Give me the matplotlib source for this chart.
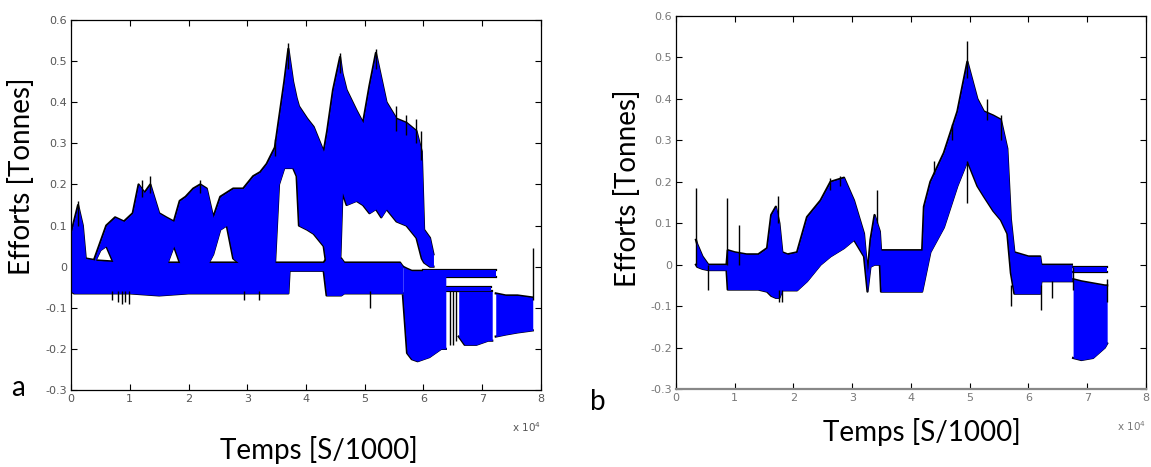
import matplotlib
matplotlib.use('Agg')
import matplotlib.pyplot as plt

# ---- panel a : overlapping runs (x in units of 1e4 S/1000, y in tonnes) ----
a_up_x = [0.40, 0.50, 0.60, 0.75, 0.90, 1.05, 1.15, 1.25, 1.35, 1.50, 1.62, 1.75, 1.85, 1.95, 2.08,
          2.20, 2.31, 2.42, 2.54, 2.65, 2.76, 2.93, 3.10, 3.22, 3.33, 3.47, 3.54, 3.63, 3.70, 3.78,
          3.84, 3.88, 4.02, 4.13, 4.30, 4.36, 4.46, 4.58, 4.62, 4.69, 4.86, 4.97, 5.08, 5.19, 5.28,
          5.37, 5.54, 5.71, 5.88, 5.97, 6.01, 6.11, 6.17]
a_up_top = [0.02, 0.06, 0.10, 0.12, 0.11, 0.13, 0.20, 0.18, 0.20, 0.13, 0.12, 0.11, 0.16, 0.17, 0.19,
            0.20, 0.19, 0.12, 0.17, 0.18, 0.19, 0.19, 0.22, 0.23, 0.25, 0.29, 0.36, 0.45, 0.53, 0.45,
            0.41, 0.39, 0.36, 0.34, 0.28, 0.33, 0.43, 0.51, 0.47, 0.43, 0.38, 0.35, 0.44, 0.52, 0.46,
            0.40, 0.36, 0.35, 0.33, 0.28, 0.09, 0.07, 0.03]
a_up_bot = [0.01, 0.04, 0.05, 0.00, 0.00, 0.00, 0.00, 0.00, 0.00, 0.00, 0.00, 0.05, 0.01, 0.00, 0.00,
            0.00, 0.00, 0.03, 0.09, 0.10, 0.02, 0.00, 0.00, 0.00, 0.00, 0.00, 0.20, 0.24, 0.24, 0.24,
            0.22, 0.10, 0.09, 0.08, 0.05, -0.01, -0.01, 0.00, 0.18, 0.15, 0.16, 0.15, 0.13, 0.14, 0.12,
            0.14, 0.11, 0.10, 0.07, 0.02, 0.01, 0.00, 0.00]

a_low_x = [0.00, 0.05, 0.12, 0.20, 0.25, 0.45, 1.00, 1.50, 2.00, 2.50, 3.00, 3.50, 3.70, 3.72, 4.30,
           4.35, 4.60, 4.65, 5.00, 5.60, 5.65]
a_low_top = [0.08, 0.11, 0.15, 0.10, 0.02, 0.015, 0.01, 0.01, 0.01, 0.01, 0.01, 0.01, 0.01, 0.01, 0.01,
             0.02, 0.02, 0.01, 0.01, 0.01, 0.00]
a_low_bot = [-0.06, -0.065, -0.065, -0.065, -0.065, -0.065, -0.065, -0.07, -0.065, -0.065, -0.065,
             -0.065, -0.065, -0.01, -0.01, -0.07, -0.07, -0.065, -0.065, -0.065, -0.065]

a_big_x = [5.65, 5.72, 5.80, 5.90, 6.00, 6.10, 6.20, 6.30, 6.38]
a_big_top = [0.00, -0.005, -0.01, -0.01, -0.01, -0.01, -0.01, -0.01, -0.01]
a_big_bot = [-0.07, -0.21, -0.225, -0.23, -0.225, -0.22, -0.21, -0.20, -0.20]

a_bar1_x = [6.00, 7.23]
a_bar1_top = [-0.008, -0.008]
a_bar1_bot = [-0.024, -0.024]
a_bar2_x = [6.00, 7.15]
a_bar2_top = [-0.05, -0.05]
a_bar2_bot = [-0.06, -0.06]

a_b3_x = [6.60, 6.70, 6.90, 7.10, 7.17]
a_b3_top = [-0.06, -0.06, -0.06, -0.06, -0.06]
a_b3_bot = [-0.17, -0.19, -0.19, -0.18, -0.18]

a_b4_x = [7.23, 7.40, 7.60, 7.86]
a_b4_top = [-0.065, -0.07, -0.07, -0.075]
a_b4_bot = [-0.17, -0.165, -0.16, -0.155]

a_spk_x = [0.12, 0.70, 0.80, 0.86, 0.92, 0.98, 1.20, 1.35, 2.20, 2.95, 3.20, 3.47, 3.70, 4.58, 5.19,
           5.09, 5.54, 5.71, 5.88, 5.96, 6.45, 6.50, 6.56, 7.86]
a_spk_lo = [0.10, -0.08, -0.085, -0.09, -0.085, -0.09, 0.17, 0.18, 0.18, -0.08, -0.08, 0.27, 0.48, 0.47, 0.48,
            -0.10, 0.33, 0.32, 0.30, 0.26, -0.19, -0.19, -0.18, -0.08]
a_spk_hi = [0.16, -0.06, -0.06, -0.06, -0.06, -0.06, 0.21, 0.22, 0.21, -0.06, -0.06, 0.31, 0.545, 0.52, 0.53,
            -0.06, 0.39, 0.37, 0.36, 0.33, -0.06, -0.06, -0.06, 0.045]

# ---- panel b ----
b_x = [0.34, 0.36, 0.45, 0.55, 0.70, 0.86, 0.88, 1.00, 1.20, 1.40, 1.55, 1.62, 1.70, 1.76, 1.81,
       1.90, 2.06, 2.23, 2.46, 2.63, 2.86, 3.03, 3.20, 3.26, 3.31, 3.38, 3.47, 3.49, 3.70, 3.90,
       4.19, 4.22, 4.33, 4.56, 4.79, 4.96, 5.13, 5.24, 5.40, 5.53, 5.64, 5.70, 5.76, 6.00, 6.20,
       6.22, 6.74]
b_top = [0.06, 0.05, 0.02, 0.00, 0.00, 0.00, 0.035, 0.03, 0.025, 0.025, 0.04, 0.12, 0.14, 0.10, 0.03,
         0.025, 0.03, 0.115, 0.155, 0.20, 0.21, 0.155, 0.075, -0.02, 0.06, 0.12, 0.08, 0.035, 0.035, 0.035,
         0.035, 0.14, 0.20, 0.27, 0.37, 0.49, 0.40, 0.37, 0.36, 0.35, 0.28, 0.11, 0.03, 0.02, 0.02,
         0.00, 0.00]
b_bot = [0.00, -0.005, -0.01, -0.013, -0.013, -0.013, -0.06, -0.06, -0.06, -0.06, -0.065, -0.075, -0.08, -0.08, -0.062,
         -0.062, -0.062, -0.04, 0.00, 0.02, 0.04, 0.06, 0.02, -0.065, -0.005, 0.00, 0.00, -0.065, -0.065, -0.065,
         -0.065, -0.045, 0.03, 0.09, 0.19, 0.25, 0.19, 0.165, 0.13, 0.108, 0.075, -0.02, -0.07, -0.07, -0.07,
         -0.04, -0.04]

b_big_x = [6.76, 6.90, 7.10, 7.30, 7.34]
b_big_top = [-0.035, -0.04, -0.045, -0.05, -0.05]
b_big_bot = [-0.225, -0.23, -0.225, -0.20, -0.19]

b_bar_x = [6.76, 7.33]
b_bar_top = [-0.005, -0.005]
b_bar_bot = [-0.017, -0.017]

b_spk_x = [0.34, 0.55, 0.87, 1.08, 1.73, 1.75, 1.80, 2.63, 2.80, 3.43, 4.40, 4.70, 4.96, 4.96, 5.30,
           5.53, 5.70, 6.22, 6.40, 6.76, 7.33]
b_spk_lo = [0.00, -0.06, 0.00, 0.00, 0.10, -0.09, -0.09, 0.18, 0.19, 0.10, 0.22, 0.30, 0.45, 0.15, 0.35,
            0.30, -0.10, -0.11, -0.08, -0.06, -0.09]
b_spk_hi = [0.185, 0.00, 0.16, 0.095, 0.165, -0.06, -0.06, 0.21, 0.215, 0.18, 0.25, 0.34, 0.54, 0.25, 0.40,
            0.36, -0.05, -0.05, -0.04, -0.005, -0.035]

yticks = [-0.3, -0.2, -0.1, 0, 0.1, 0.2, 0.3, 0.4, 0.5, 0.6]
xticks = [0, 1, 2, 3, 4, 5, 6, 7, 8]

BLUE = '#0000ff'
label_font = 'Lato'


def band(ax, x, top, bot):
    # black outline drawn under the blue fill, so only the outer rim shows
    ax.fill_between(x, bot, top, color=BLUE, lw=0, zorder=3)
    ax.plot(x, top, color='k', lw=1.6, zorder=2)
    ax.plot(x, bot, color='k', lw=1.6, zorder=2)


def style(ax, tick_color):
    ax.set_xlim(0, 8)
    ax.set_ylim(-0.3, 0.6)
    ax.set_xticks(xticks)
    ax.set_yticks(yticks)
    ax.set_xticklabels([str(t) for t in xticks])
    ax.set_yticklabels(['%g' % t for t in yticks])
    ax.tick_params(direction='in', top=True, right=True, length=4, width=0.8,
                   labelsize=8, labelcolor=tick_color, pad=3)
    for s in ax.spines.values():
        s.set_linewidth(0.9)
        s.set_zorder(5)
    ax.text(1.0, -0.1, r'x $10^4$', transform=ax.transAxes, ha='right', va='center',
            fontsize=7.5, color=tick_color)


fig = plt.figure(figsize=(11.51, 4.67), dpi=100)

ax1 = fig.add_axes([0.0617, 0.1649, 0.4083, 0.7923])
band(ax1, a_low_x, a_low_top, a_low_bot)
band(ax1, a_up_x, a_up_top, a_up_bot)
band(ax1, a_big_x, a_big_top, a_big_bot)
band(ax1, a_bar1_x, a_bar1_top, a_bar1_bot)
band(ax1, a_bar2_x, a_bar2_top, a_bar2_bot)
band(ax1, a_b3_x, a_b3_top, a_b3_bot)
band(ax1, a_b4_x, a_b4_top, a_b4_bot)
ax1.vlines(a_spk_x, a_spk_lo, a_spk_hi, color='k', lw=1, zorder=4)
style(ax1, '#555555')

ax2 = fig.add_axes([0.5873, 0.167, 0.4083, 0.7987])
band(ax2, b_x, b_top, b_bot)
band(ax2, b_big_x, b_big_top, b_big_bot)
band(ax2, b_bar_x, b_bar_top, b_bar_bot)
ax2.vlines(b_spk_x, b_spk_lo, b_spk_hi, color='k', lw=1, zorder=4)
style(ax2, '#777777')
ax2.spines['bottom'].set_color('#888888')
ax2.spines['bottom'].set_linewidth(1.6)

# axis titles and panel letters
fig.text(319 / 1151, 1 - 450 / 467, 'Temps [S/1000]', ha='center', va='center',
         fontsize=20, family=label_font)
fig.text(922 / 1151, 1 - 432 / 467, 'Temps [S/1000]', ha='center', va='center',
         fontsize=20, family=label_font)
fig.text(22 / 1151, 1 - 176 / 467, 'Efforts [Tonnes]', ha='center', va='center',
         rotation=90, fontsize=20, family=label_font)
fig.text(628 / 1151, 1 - 188 / 467, 'Efforts [Tonnes]', ha='center', va='center',
         rotation=90, fontsize=20, family=label_font)
fig.text(18 / 1151, 1 - 388 / 467, 'a', ha='center', va='center', fontsize=20, family=label_font)
fig.text(598 / 1151, 1 - 402 / 467, 'b', ha='center', va='center', fontsize=20, family=label_font)

fig.savefig('out.png', dpi=100)
